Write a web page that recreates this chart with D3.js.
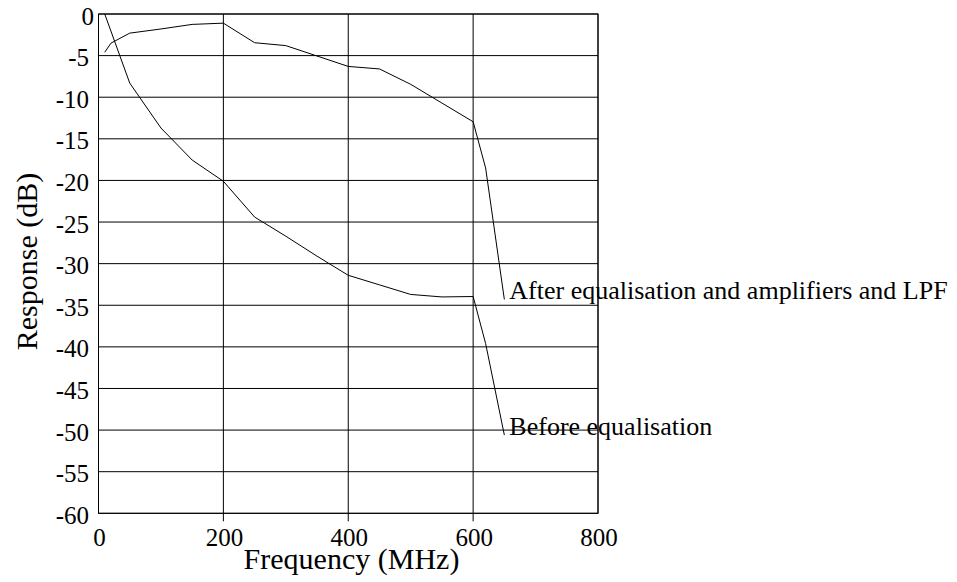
<!DOCTYPE HTML>
<html>
	<head>
		<meta charset="utf-8">
		<title>Response vs Frequency</title>
		<style>
body {
  margin: 0;
  background: #fff;
}
text {
  font-family: "Liberation Serif", "Times New Roman", Times, serif;
  fill: #000;
}
.grid line {
  stroke: #000;
  stroke-width: 1px;
}
.frame {
  fill: none;
  stroke: #000;
  stroke-width: 1px;
}
.curve {
  fill: none;
  stroke: #000;
  stroke-width: 1px;
}
.tick-label {
  font-size: 25px;
}
.axis-title {
  font-size: 30px;
}
.curve-label {
  font-size: 26px;
}
		</style>
	</head>
	<body>

<script src="https://d3js.org/d3.v7.min.js"></script>
<script>
// frequency (MHz) / response (dB)
var afterFreq = [10, 20, 50, 100, 150, 200, 250, 300, 400, 450, 500, 550, 600, 620, 650];
var afterDb   = [-4.6, -3.5, -2.3, -1.8, -1.25, -1.1, -3.45, -3.8, -6.3, -6.6, -8.45, -10.7, -12.95, -18.5, -34.3];

var beforeFreq = [10, 50, 100, 150, 200, 250, 300, 350, 400, 450, 500, 550, 600, 620, 650];
var beforeDb   = [0, -8.3, -13.7, -17.55, -20.1, -24.4, -26.7, -29.1, -31.4, -32.55, -33.7, -34.0, -33.95, -39.6, -50.6];

var xTicks = [0, 200, 400, 600, 800];
var yTicks = d3.range(0, -61, -5);

var seriesNames = ["After equalisation and amplifiers and LPF", "Before equalisation"];

var width = 957,
    height = 582;

var x = d3.scaleLinear()
    .domain([0, 800])
    .range([98.5, 598]);

var y = d3.scaleLinear()
    .domain([0, -60])
    .range([14, 513.3]);

var svg = d3.select("body").append("svg")
    .attr("width", width)
    .attr("height", height);

// horizontal grid lines
svg.append("g")
    .attr("class", "grid")
  .selectAll("line")
    .data(yTicks)
  .enter().append("line")
    .attr("x1", x(0))
    .attr("x2", x(800))
    .attr("y1", function(d){ return y(d); })
    .attr("y2", function(d){ return y(d); });

// vertical grid lines (inner ones poke out below the axis)
svg.append("g")
    .attr("class", "grid")
  .selectAll("line")
    .data(xTicks)
  .enter().append("line")
    .attr("x1", function(d){ return x(d); })
    .attr("x2", function(d){ return x(d); })
    .attr("y1", y(0))
    .attr("y2", function(d){ return (d > 0 && d < 800) ? y(-60) + 8 : y(-60); });

svg.append("rect")
    .attr("class", "frame")
    .attr("x", x(0))
    .attr("y", y(0))
    .attr("width", x(800) - x(0))
    .attr("height", y(-60) - y(0));

// tick labels
svg.selectAll(".ylab")
    .data(yTicks)
  .enter().append("text")
    .attr("class", "tick-label")
    .attr("font-family", "Liberation Serif")
    .attr("text-anchor", "end")
    .attr("x", function(d){ return d === 0 ? 94 : 89; })
    .attr("y", function(d){ return y(d) + 10.5; })
    .text(function(d){ return String(d); });

svg.selectAll(".xlab")
    .data(xTicks)
  .enter().append("text")
    .attr("class", "tick-label")
    .attr("font-family", "Liberation Serif")
    .attr("text-anchor", "middle")
    .attr("x", function(d){ return x(d) + 1; })
    .attr("y", 546)
    .text(function(d){ return String(d); });

// axis titles
svg.append("text")
    .attr("class", "axis-title")
    .attr("text-anchor", "middle")
    .attr("x", 351.5)
    .attr("y", 569)
    .text("Frequency (MHz)");

svg.append("text")
    .attr("class", "axis-title")
    .attr("text-anchor", "middle")
    .attr("transform", "translate(37,261.5)rotate(-90)")
    .text("Response (dB)");

// the two curves
var line = d3.line()
    .x(function(d){ return x(d[0]); })
    .y(function(d){ return y(d[1]); });

var series = [
  d3.zip(afterFreq, afterDb),
  d3.zip(beforeFreq, beforeDb)
];

svg.selectAll(".curve")
    .data(series)
  .enter().append("path")
    .attr("class", "curve")
    .attr("d", line);

// labels hang off the last point of each curve
svg.selectAll(".curve-label")
    .data(series)
  .enter().append("text")
    .attr("class", "curve-label")
    .attr("x", function(d){ return x(d[d.length - 1][0]) + 5; })
    .attr("y", function(d){ return y(d[d.length - 1][1]); })
    .text(function(d, i){ return seriesNames[i]; });

</script>
</body>
</html>
